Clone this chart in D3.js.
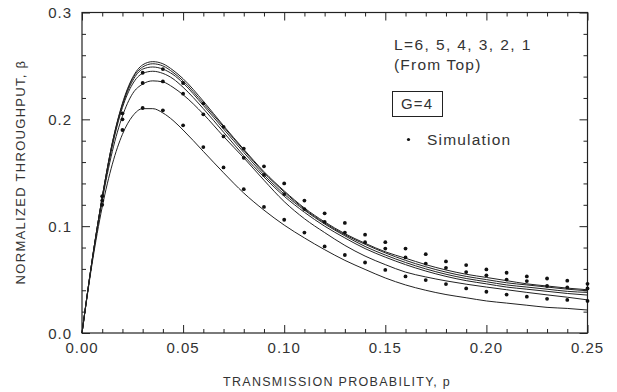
<!DOCTYPE html>
<html><head><meta charset="utf-8">
<script src="https://cdn.jsdelivr.net/npm/d3@7"></script>
<style>
html,body{margin:0;padding:0;background:#fff;}
svg{display:block;}
text{font-family:"Liberation Sans","DejaVu Sans",sans-serif;fill:#333;}
</style></head>
<body><svg id="chart" width="617" height="392"></svg>
<script>
// Model curves, L = 6..1 (from top)
const pGrid = [0,0.005,0.01,0.015,0.02,0.025,0.03,0.035,0.04,0.045,0.05,
  0.06,0.07,0.08,0.09,0.10,0.11,0.12,0.13,0.14,0.15,0.16,0.17,0.18,0.19,0.20,0.21,0.22,0.23,0.24,0.25];
const L6 = [0,0.068,0.127,0.178,0.215,0.239,0.251,0.254,0.252,0.246,0.238,
  0.217,0.194,0.172,0.151,0.133,0.117,0.104,0.093,0.084,0.076,0.070,0.064,0.059,0.055,0.052,0.049,0.046,0.044,0.042,0.0405];
const L5 = [0,0.068,0.127,0.178,0.214,0.238,0.249,0.252,0.250,0.244,0.236,
  0.215,0.193,0.171,0.150,0.132,0.116,0.103,0.092,0.083,0.075,0.068,0.062,0.057,0.053,0.050,0.047,0.045,0.043,0.041,0.0395];
const L4 = [0,0.068,0.127,0.177,0.213,0.236,0.247,0.249,0.247,0.242,0.234,
  0.213,0.191,0.169,0.148,0.130,0.115,0.102,0.091,0.081,0.073,0.066,0.060,0.055,0.051,0.048,0.045,0.043,0.041,0.039,0.038];
const L3 = [0,0.068,0.126,0.175,0.211,0.233,0.243,0.245,0.243,0.238,0.230,
  0.210,0.188,0.166,0.146,0.128,0.113,0.100,0.089,0.079,0.071,0.064,0.058,0.053,0.049,0.046,0.043,0.041,0.039,0.037,0.0355];
const L2 = [0,0.067,0.124,0.170,0.203,0.224,0.233,0.236,0.235,0.230,0.223,
  0.205,0.184,0.164,0.143,0.123,0.107,0.094,0.082,0.072,0.064,0.057,0.0525,0.0488,0.0457,0.043,0.0405,0.038,0.0357,0.0335,0.031];
const L1 = [0,0.065,0.118,0.158,0.186,0.203,0.210,0.210,0.206,0.199,0.190,
  0.170,0.150,0.131,0.115,0.101,0.089,0.078,0.068,0.0595,0.0515,0.045,0.040,0.036,0.033,0.030,0.028,0.026,0.024,0.023,0.0215];
const curves = [L6, L5, L4, L3, L2, L1];

// Simulation points
const simP = [0.01,0.02,0.03,0.04,0.05,0.06,0.07,0.08,0.09,0.10,0.11,0.12,0.13,0.14,0.15,0.16,0.17,0.18,0.19,0.20,0.21,0.22,0.23,0.24,0.25];
const simA = [0.128,0.2056,0.2436,0.247,0.234,0.215,0.193,0.1726,0.156,0.140,0.124,0.112,0.103,0.092,0.085,0.079,0.0738,0.067,0.0636,0.0595,0.0564,0.053,0.051,0.049,0.046];
const simB = [0.124,0.200,0.234,0.2355,0.224,0.2047,0.184,0.164,0.148,0.130,0.116,0.104,0.094,0.085,0.079,0.0707,0.065,0.061,0.057,0.054,0.050,0.0486,0.044,0.0427,0.0417];
const simC = [0.120,0.190,0.2106,0.2084,0.1944,0.174,0.155,0.1346,0.118,0.106,0.094,0.081,0.073,0.066,0.059,0.053,0.0495,0.0458,0.0417,0.0386,0.036,0.034,0.032,0.031,0.030];
const sims = [simA, simB, simC];

const xMajor = [0,0.05,0.10,0.15,0.20,0.25];
const xLabels = ["0.00","0.05","0.10","0.15","0.20","0.25"];
const yMajor = [0,0.1,0.2,0.3];
const yLabels = ["0.0","0.1","0.2","0.3"];

const svg = d3.select("#chart");
const mLeft = 82, mRight = 587.5, mTop = 12.5, mBottom = 333;
const x = d3.scaleLinear().domain([0,0.25]).range([mLeft,mRight]);
const y = d3.scaleLinear().domain([0,0.3]).range([mBottom,mTop]);

// frame
svg.append("rect").attr("x",mLeft).attr("y",mTop).attr("width",mRight-mLeft).attr("height",mBottom-mTop)
  .attr("fill","none").attr("stroke","#222").attr("stroke-width",1.2);

const xMinor = d3.range(0,26).map(i=>i/100);
const yMinor = d3.range(0,16).map(i=>i*0.02);
function isMajor(v,step){return Math.abs(v/step-Math.round(v/step))<1e-6;}

// axes with inward ticks
const xb = svg.append("g").attr("transform",`translate(0,${mBottom})`)
  .call(d3.axisBottom(x).tickValues(xMinor).tickSize(0).tickFormat(""));
xb.select(".domain").remove();
xb.selectAll(".tick line").attr("y2",d=>isMajor(d,0.05)?-8:-4).attr("stroke","#222");
const xt = svg.append("g").attr("transform",`translate(0,${mTop})`)
  .call(d3.axisTop(x).tickValues(xMinor).tickSize(0).tickFormat(""));
xt.select(".domain").remove();
xt.selectAll(".tick line").attr("y2",d=>isMajor(d,0.05)?8:4).attr("stroke","#222");
const yl = svg.append("g").attr("transform",`translate(${mLeft},0)`)
  .call(d3.axisLeft(y).tickValues(yMinor).tickSize(0).tickFormat(""));
yl.select(".domain").remove();
yl.selectAll(".tick line").attr("x2",d=>isMajor(d,0.1)?8:4).attr("stroke","#222");
const yr = svg.append("g").attr("transform",`translate(${mRight},0)`)
  .call(d3.axisRight(y).tickValues(yMinor).tickSize(0).tickFormat(""));
yr.select(".domain").remove();
yr.selectAll(".tick line").attr("x2",d=>isMajor(d,0.1)?-8:-4).attr("stroke","#222");

// tick labels
svg.selectAll(".xl").data(xMajor).enter().append("text")
  .attr("x",d=>x(d)).attr("y",mBottom+20).attr("text-anchor","middle")
  .style("font-size","15px").style("letter-spacing","1px").text((d,i)=>xLabels[i]);
svg.selectAll(".yl").data(yMajor).enter().append("text")
  .attr("x",mLeft-10).attr("y",d=>y(d)+5.5).attr("text-anchor","end")
  .style("font-size","15px").style("letter-spacing","1px").text((d,i)=>yLabels[i]);

// axis titles
svg.append("text").attr("x",337).attr("y",386).attr("text-anchor","middle")
  .style("font-size","12.5px").style("letter-spacing","1.3px").text("TRANSMISSION PROBABILITY, p");
svg.append("text").attr("transform","translate(25,172) rotate(-90)").attr("text-anchor","middle")
  .style("font-size","13px").style("letter-spacing","1.3px").text("NORMALIZED THROUGHPUT, β");

// curves
const line = d3.line().x((d,i)=>x(pGrid[i])).y(d=>y(d)).curve(d3.curveMonotoneX);
svg.append("g").selectAll("path").data(curves).enter().append("path")
  .attr("d",line).attr("fill","none").attr("stroke","#222").attr("stroke-width",1);

// simulation dots
sims.forEach(s=>{
  svg.append("g").selectAll("circle").data(s).enter().append("circle")
    .attr("cx",(d,i)=>x(simP[i])).attr("cy",d=>y(d)).attr("r",1.9).attr("fill","#111");
});

// annotations
svg.append("text").attr("x",394).attr("y",50).style("font-size","15.5px").style("letter-spacing","1.4px")
  .text("L=6, 5, 4, 3, 2, 1");
svg.append("text").attr("x",394).attr("y",70).style("font-size","15.5px").style("letter-spacing","1.2px")
  .text("(From Top)");
svg.append("rect").attr("x",392.5).attr("y",91.5).attr("width",50).attr("height",25)
  .attr("fill","none").attr("stroke","#222").attr("stroke-width",1);
svg.append("text").attr("x",401).attr("y",109).style("font-size","15px").style("letter-spacing","1.2px")
  .text("G=4");
svg.append("circle").attr("cx",408.5).attr("cy",139.5).attr("r",1.6).attr("fill","#111");
svg.append("text").attr("x",427).attr("y",145).style("font-size","15.5px").style("letter-spacing","1.2px")
  .text("Simulation");
</script></body></html>
